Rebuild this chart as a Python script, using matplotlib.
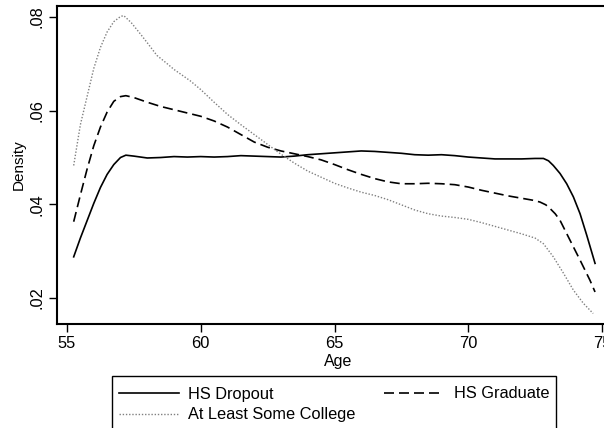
import matplotlib
matplotlib.use("Agg")
import matplotlib.pyplot as plt
from matplotlib.lines import Line2D
from matplotlib.patches import Rectangle

plt.rcParams['font.family'] = ['Liberation Sans', 'DejaVu Sans']

age_dropout = [55.25, 55.5, 55.75, 56.0, 56.25, 56.5, 56.75, 57.0, 57.2, 57.5, 58.0, 58.5, 59.0, 59.5,
               60.0, 60.5, 61.0, 61.5, 62.0, 62.5, 63.0, 63.5, 64.0, 64.5, 65.0, 65.5, 66.0, 66.5,
               67.0, 67.5, 68.0, 68.5, 69.0, 69.5, 70.0, 70.5, 71.0, 71.5, 72.0, 72.5, 72.81, 73.0,
               73.18, 73.43, 73.68, 73.93, 74.18, 74.43, 74.74]
dens_dropout = [0.0288, 0.0328, 0.0365, 0.0402, 0.0436, 0.0464, 0.0485, 0.0500, 0.0505, 0.0503, 0.0499,
                0.0500, 0.0502, 0.0501, 0.0502, 0.0501, 0.0502, 0.0504, 0.0503, 0.0502, 0.0501, 0.0503,
                0.0506, 0.0508, 0.0510, 0.0512, 0.0514, 0.0513, 0.0511, 0.0509, 0.0506, 0.0505, 0.0506,
                0.0504, 0.0501, 0.0499, 0.0497, 0.0497, 0.0497, 0.0498, 0.0498, 0.0493, 0.0483, 0.0466,
                0.0444, 0.0416, 0.0380, 0.0334, 0.0274]

age_grad = [55.25, 55.5, 55.75, 56.0, 56.25, 56.5, 56.75, 57.0, 57.2, 57.5, 58.0, 58.5, 59.0, 59.5,
            60.0, 60.5, 61.0, 61.5, 62.0, 62.5, 63.0, 63.5, 64.0, 64.5, 65.0, 65.5, 66.0, 66.5,
            67.0, 67.5, 68.0, 68.5, 69.0, 69.5, 70.0, 70.5, 71.0, 71.5, 72.0, 72.4, 72.68, 72.9,
            73.06, 73.25, 73.43, 73.8, 74.18, 74.55, 74.74]
dens_grad = [0.0363, 0.0420, 0.0475, 0.0525, 0.0565, 0.0597, 0.0620, 0.0630, 0.0632, 0.0628, 0.0618,
             0.0609, 0.0602, 0.0595, 0.0588, 0.0578, 0.0565, 0.0549, 0.0533, 0.0522, 0.0514, 0.0508,
             0.0502, 0.0495, 0.0485, 0.0474, 0.0464, 0.0455, 0.0448, 0.0444, 0.0444, 0.0445, 0.0444,
             0.0442, 0.0437, 0.0430, 0.0424, 0.0418, 0.0413, 0.0409, 0.0405, 0.0399, 0.0391, 0.0380,
             0.0366, 0.0324, 0.0281, 0.0238, 0.0213]

age_college = [55.25, 55.5, 55.75, 56.0, 56.25, 56.5, 56.75, 57.0, 57.12, 57.4, 57.74, 58.0, 58.36,
               58.75, 59.0, 59.6, 60.0, 60.5, 61.0, 61.5, 62.0, 62.5, 63.0, 63.5, 64.0, 64.5, 65.0,
               65.5, 66.0, 66.5, 67.0, 67.5, 68.0, 68.5, 69.0, 69.5, 70.0, 70.5, 71.0, 71.5, 72.0,
               72.5, 72.81, 73.18, 73.56, 73.93, 74.3, 74.67]
dens_college = [0.0483, 0.0570, 0.0630, 0.0690, 0.0735, 0.0768, 0.0790, 0.0801, 0.0803, 0.0788, 0.0764,
                0.0745, 0.0718, 0.0700, 0.0688, 0.0664, 0.0645, 0.0618, 0.0592, 0.0570, 0.0549, 0.0528,
                0.0507, 0.0488, 0.0471, 0.0458, 0.0445, 0.0435, 0.0426, 0.0419, 0.0410, 0.0399, 0.0388,
                0.0380, 0.0375, 0.0372, 0.0368, 0.0361, 0.0353, 0.0345, 0.0337, 0.0328, 0.0316, 0.0288,
                0.0253, 0.0217, 0.0189, 0.0167]

series_labels = ["HS Dropout", "HS Graduate", "At Least Some College"]
x_ticks = [55, 60, 65, 70, 75]
y_ticks = [0.02, 0.04, 0.06, 0.08]
y_ticklabels = [".02", ".04", ".06", ".08"]

W, H = 604, 428
fig = plt.figure(figsize=(W / 100, H / 100), dpi=100)
left_px, right_px, top_px, bot_px = 57, 620, 6, 324
ax = fig.add_axes([left_px / W, (H - bot_px) / H, (right_px - left_px) / W, (bot_px - top_px) / H])

solid_style = dict(color='black', lw=1.2, linestyle='-')
dash_style = dict(color='black', lw=1.2, linestyle=(0, (6, 3)))
dot_style = dict(color='#808080', lw=1.0, linestyle=(0, (1, 1.3)))

ax.plot(age_dropout, dens_dropout, **solid_style)
ax.plot(age_grad, dens_grad, **dash_style)
ax.plot(age_college, dens_college, **dot_style)

px_per_year = 26.75
ax.set_xlim(55 - (67 - left_px) / px_per_year, 55 + (right_px - 67) / px_per_year)
px_per_unit = 93.9 / 0.02
ax.set_ylim(0.02 - (bot_px - 298) / px_per_unit, 0.08 + (17 - top_px) / px_per_unit)

ax.set_xticks(x_ticks)
ax.set_xticklabels([str(t) for t in x_ticks])
ax.set_yticks(y_ticks)
ax.set_yticklabels(y_ticklabels, rotation=90, va='center')
ax.tick_params(axis='both', direction='out', length=6, width=1, labelsize=11.8, pad=3)
for s in ['left', 'bottom', 'top']:
    ax.spines[s].set_linewidth(1.5)
ax.spines['right'].set_visible(False)

ax.set_xlabel("Age", fontsize=11.5, labelpad=1.5)
ax.set_ylabel("Density", fontsize=11, labelpad=3)

handles = [Line2D([], [], **solid_style), Line2D([], [], **dash_style), Line2D([], [], **dot_style)]
order = [0, 2, 1]
fs = 11.8
fpx = fs * 100 / 72
leg = fig.legend([handles[i] for i in order], [series_labels[i] for i in order],
                 loc='upper left', bbox_to_anchor=(118.5 / W, 1 - 386.5 / H),
                 ncol=2, fontsize=fs, frameon=False,
                 handlelength=60 / fpx, handletextpad=10 / fpx, columnspacing=28 / fpx,
                 borderpad=0, labelspacing=0.36, borderaxespad=0)
fig.add_artist(Rectangle((112 / W, 1 - 440 / H), 444 / W, 64 / H, transform=fig.transFigure,
                         fill=False, edgecolor='black', lw=1.0))

fig.savefig("out.png", dpi=100)
